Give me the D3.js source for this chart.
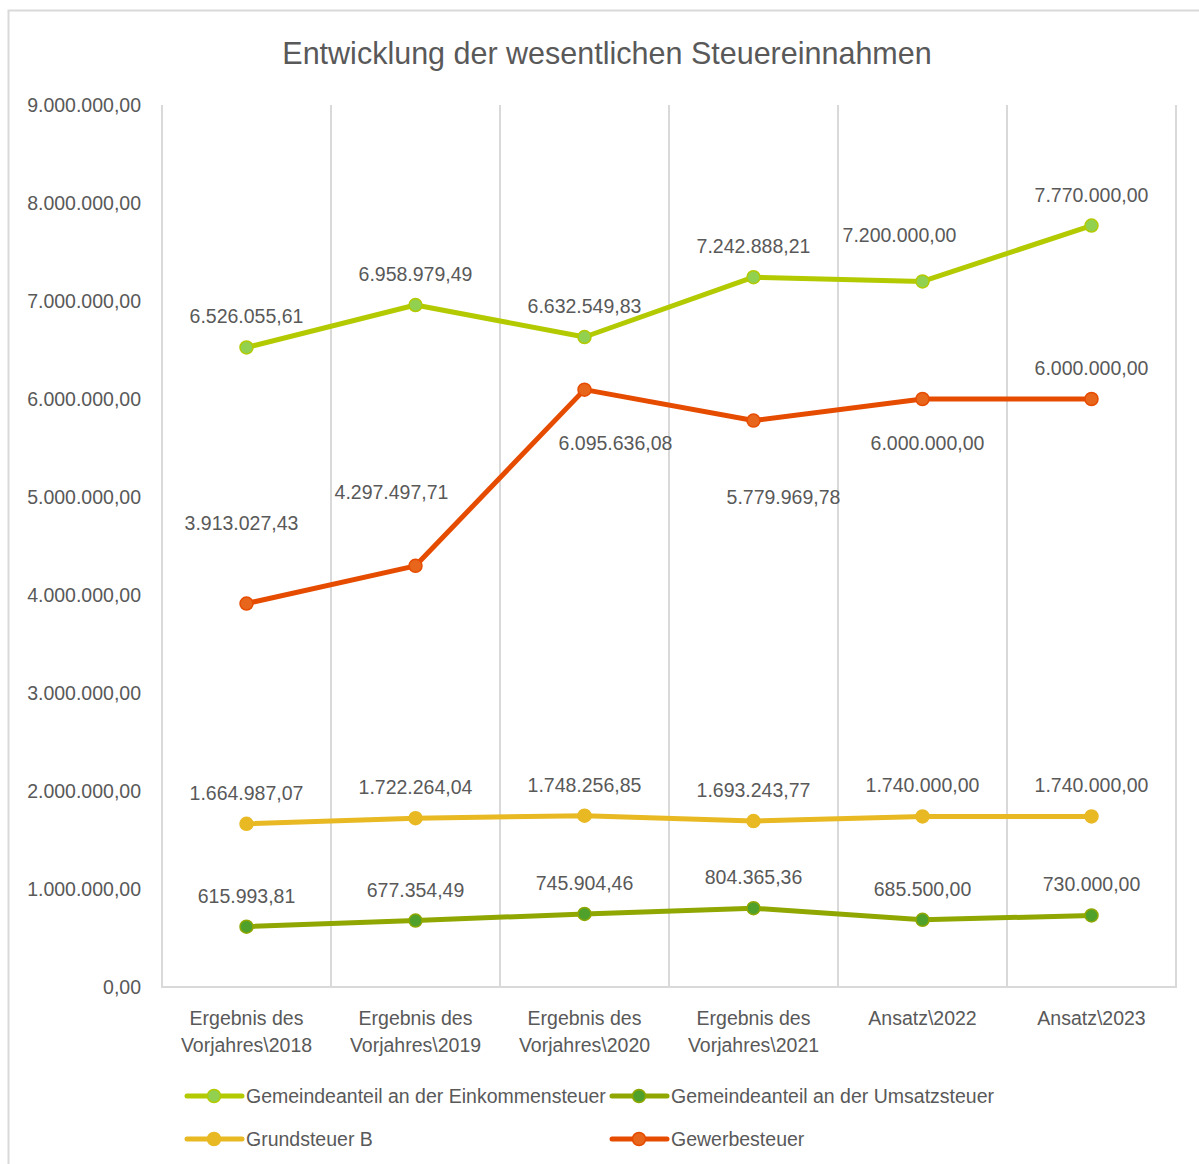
<!DOCTYPE html>
<html>
<head>
<meta charset="utf-8">
<script src="https://cdn.jsdelivr.net/npm/d3@7"></script>
<style>
  body { margin: 0; background: #fff; }
  text { font-family: "Liberation Sans", Arial, sans-serif; fill: #595959; }
</style>
</head>
<body>
<div id="chart"></div>
<script>
// categories and series values
var categories = ["Ergebnis des\nVorjahres\\2018", "Ergebnis des\nVorjahres\\2019", "Ergebnis des\nVorjahres\\2020",
                  "Ergebnis des\nVorjahres\\2021", "Ansatz\\2022", "Ansatz\\2023"];
var einkommensteuer = [6526055.61, 6958979.49, 6632549.83, 7242888.21, 7200000.00, 7770000.00];
var umsatzsteuer = [615993.81, 677354.49, 745904.46, 804365.36, 685500.00, 730000.00];
var grundsteuerB = [1664987.07, 1722264.04, 1748256.85, 1693243.77, 1740000.00, 1740000.00];
var gewerbesteuer = [3913027.43, 4297497.71, 6095636.08, 5779969.78, 6000000.00, 6000000.00];
var yTicks = [0, 1000000, 2000000, 3000000, 4000000, 5000000, 6000000, 7000000, 8000000, 9000000];

// label placement (dx, dy of label centre relative to point)
var stdLabel = [[0,-31],[0,-31],[0,-31],[0,-31],[0,-31],[0,-31]];
var einkLabel = [[0,-31],[0,-31],[0,-31],[0,-31],[-23,-46],[0,-31]];
var gewLabel = [[-5,-81],[-24,-74],[31,53],[30,76],[5,44],[0,-31]];

var series = [
  {name: "Gemeindeanteil an der Einkommensteuer", values: einkommensteuer, line: "#B3CA00", fill: "#92D050", labels: einkLabel},
  {name: "Gemeindeanteil an der Umsatzsteuer", values: umsatzsteuer, line: "#8FA700", fill: "#4FA12B", labels: stdLabel},
  {name: "Grundsteuer B", values: grundsteuerB, line: "#E8B923", fill: "#E8B923", labels: stdLabel},
  {name: "Gewerbesteuer", values: gewerbesteuer, line: "#E64C00", fill: "#E8661C", labels: gewLabel}
];

var W = 1199, H = 1164;
var plot = {left: 162, right: 1176, top: 105, bottom: 987};

var de = d3.formatLocale({decimal: ",", thousands: ".", grouping: [3], currency: ["", "€"]});
var fmt = de.format(",.2f");

var svg = d3.select("#chart").append("svg")
  .attr("width", W).attr("height", H);

// chart frame (cut off at right and bottom)
svg.append("rect")
  .attr("x", 8.5).attr("y", 10.5)
  .attr("width", W + 20).attr("height", H + 20)
  .attr("fill", "#fff").attr("stroke", "#D9D9D9").attr("stroke-width", 2);

// title
svg.append("text")
  .attr("x", 607).attr("y", 64)
  .attr("text-anchor", "middle")
  .style("font-size", "30.5px")
  .text("Entwicklung der wesentlichen Steuereinnahmen");

var x = d3.scaleBand().domain(categories).range([plot.left, plot.right]).padding(0);
var y = d3.scaleLinear().domain([0, 9000000]).range([plot.bottom, plot.top]);
var cx = function(i) { return x(categories[i]) + x.bandwidth() / 2; };

// vertical gridlines at category boundaries
var bounds = categories.map(function(c) { return x(c); }).concat([plot.right]);
svg.append("g").selectAll("line")
  .data(bounds).join("line")
    .attr("x1", function(d) { return d; }).attr("x2", function(d) { return d; })
    .attr("y1", plot.top).attr("y2", plot.bottom)
    .attr("stroke", "#D9D9D9").attr("stroke-width", 2);

// bottom axis line
svg.append("line")
  .attr("x1", plot.left - 1).attr("x2", plot.right + 1)
  .attr("y1", plot.bottom).attr("y2", plot.bottom)
  .attr("stroke", "#D9D9D9").attr("stroke-width", 2);

// y axis labels
var yAxis = svg.append("g")
  .attr("transform", "translate(" + (plot.left - 21) + ",0)")
  .call(d3.axisLeft(y).tickValues(yTicks).tickFormat(fmt).tickSize(0).tickPadding(0));
yAxis.select(".domain").remove();
yAxis.selectAll("text")
  .style("font-size", "19.5px")
  .style("font-family", "'Liberation Sans', Arial, sans-serif")
  .attr("fill", "#595959");

// x axis labels
var xl = svg.append("g").selectAll("text")
  .data(categories).join("text")
    .attr("text-anchor", "middle")
    .attr("x", function(d, i) { return cx(i); })
    .attr("y", 1025)
    .style("font-size", "19.5px");
xl.each(function(d) {
  var parts = d.split("\n");
  var t = d3.select(this);
  parts.forEach(function(p, k) {
    t.append("tspan").attr("x", t.attr("x")).attr("dy", k === 0 ? 0 : 27).text(p);
  });
});

// lines
var line = d3.line()
  .x(function(d, i) { return cx(i); })
  .y(function(d) { return y(d); });

series.forEach(function(s) {
  var g = svg.append("g");
  g.append("path")
    .attr("d", line(s.values))
    .attr("fill", "none")
    .attr("stroke", s.line)
    .attr("stroke-width", 5)
    .attr("stroke-linejoin", "round")
    .attr("stroke-linecap", "round");
  g.selectAll("circle")
    .data(s.values).join("circle")
      .attr("cx", function(d, i) { return cx(i); })
      .attr("cy", function(d) { return y(d); })
      .attr("r", 6.5)
      .attr("fill", s.fill)
      .attr("stroke", s.line)
      .attr("stroke-width", 1.5);
});

// data labels
series.forEach(function(s) {
  svg.append("g").selectAll("text")
    .data(s.values).join("text")
      .attr("text-anchor", "middle")
      .attr("x", function(d, i) { return cx(i) + s.labels[i][0]; })
      .attr("y", function(d, i) { return y(d) + s.labels[i][1] + 7; })
      .style("font-size", "19.5px")
      .attr("fill", "#404040")
      .text(function(d) { return fmt(d); });
});

// legend
var legendPos = [[187, 1096], [612, 1096], [187, 1139], [612, 1139]];
var legend = svg.append("g").selectAll("g")
  .data(series).join("g")
    .attr("transform", function(d, i) { return "translate(" + legendPos[i][0] + "," + legendPos[i][1] + ")"; });
legend.append("line")
  .attr("x1", 0).attr("x2", 55).attr("y1", 0).attr("y2", 0)
  .attr("stroke", function(d) { return d.line; })
  .attr("stroke-width", 5)
  .attr("stroke-linecap", "round");
legend.append("circle")
  .attr("cx", 27).attr("cy", 0).attr("r", 6.5)
  .attr("fill", function(d) { return d.fill; })
  .attr("stroke", function(d) { return d.line; })
  .attr("stroke-width", 1.5);
legend.append("text")
  .attr("x", 59).attr("y", 7)
  .style("font-size", "19.5px")
  .text(function(d) { return d.name; });
</script>
</body>
</html>
